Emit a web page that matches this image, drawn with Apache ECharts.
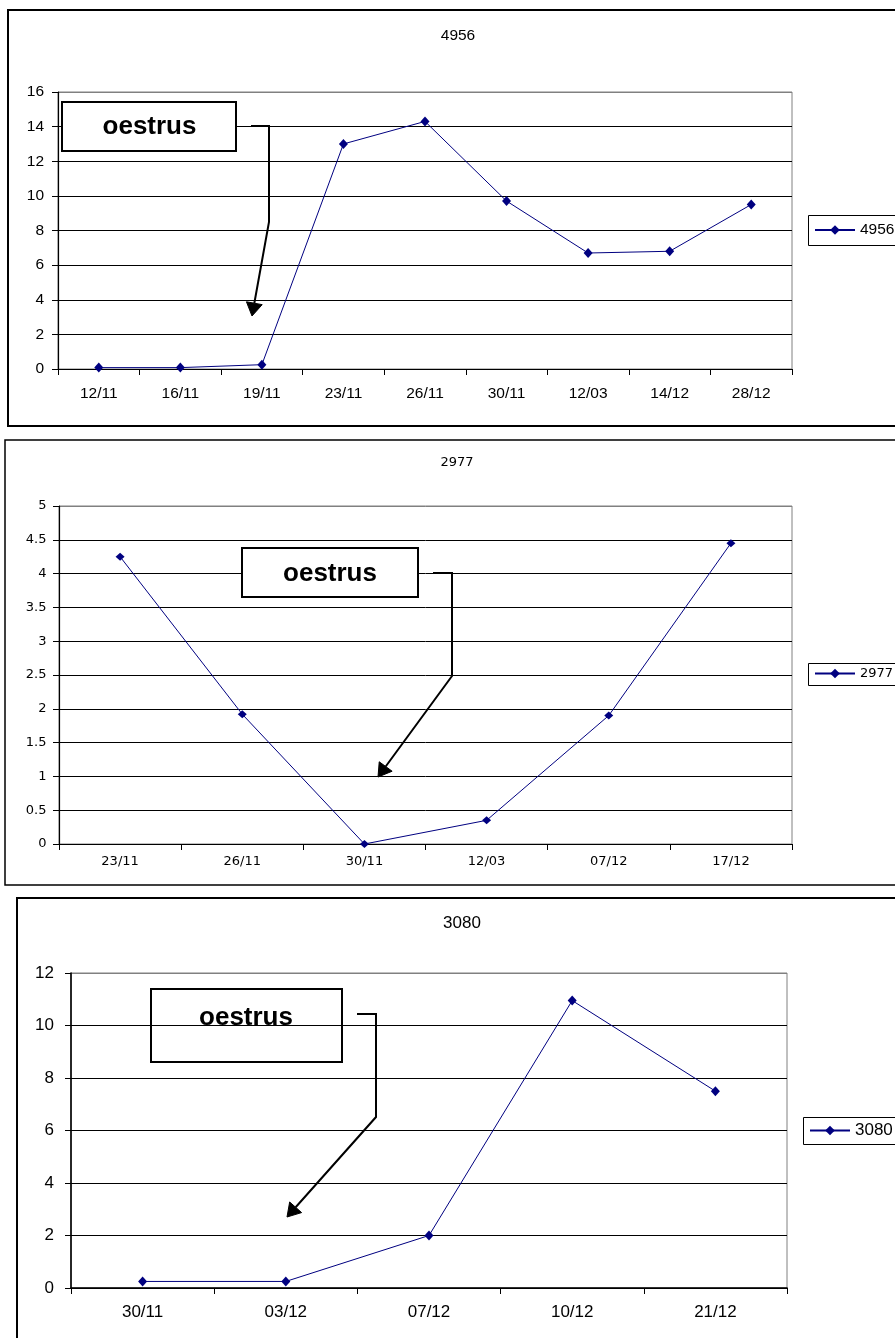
<!DOCTYPE html>
<html>
<head>
<meta charset="utf-8">
<script src="https://cdn.jsdelivr.net/npm/echarts@6/dist/echarts.min.js"></script>
<style>
  html, body { margin: 0; padding: 0; background: #ffffff; }
  #chart { width: 895px; height: 1338px; }
</style>
</head>
<body>
<div id="chart"></div>
<script>
// Cow 4956
const cats4956 = ['12/11', '16/11', '19/11', '23/11', '26/11', '30/11', '12/03', '14/12', '28/12'];
const vals4956 = [0.08, 0.08, 0.25, 13, 14.3, 9.7, 6.7, 6.8, 9.5];
const yAxis4956 = { min: 0, max: 16, interval: 2 };

// Cow 2977
const cats2977 = ['23/11', '26/11', '30/11', '12/03', '07/12', '17/12'];
const vals2977 = [4.25, 1.92, 0, 0.35, 1.9, 4.45];
const yAxis2977 = { min: 0, max: 5, interval: 0.5 };

// Cow 3080
const cats3080 = ['30/11', '03/12', '07/12', '10/12', '21/12'];
const vals3080 = [0.25, 0.25, 2, 10.95, 7.5];
const yAxis3080 = { min: 0, max: 12, interval: 2 };

const annotationText = 'oestrus';

const LINE = '#000080';
const ARIAL = 'Liberation Sans, Arial, sans-serif';
const VERDANA = 'DejaVu Sans, Verdana, sans-serif';

// Layout of the three stacked panels
const panels = [
  {
    name: '4956', cats: cats4956, vals: vals4956, y: yAxis4956,
    grid: { left: 58, top: 92, width: 734, height: 277 },
    font: ARIAL, fontSize: 15.5, yMargin: 14, xMargin: 17,
    titleX: 458, titleTop: 28,
    legend: { left: 808, top: 215, h: 30, padding: [7, 5, 7, 6] },
    symbolSize: [9, 10], axisWidth: 1.2,
    frame: { x: 8, y: 10, h: 416, lw: 2 },
    box: { x: 62, y: 102, w: 174, h: 49, fill: '#ffffff' },
    textPos: [149.5, 127],
    arrow: [[251, 126], [269, 126], [269, 222], [252, 316]]
  },
  {
    name: '2977', cats: cats2977, vals: vals2977, y: yAxis2977,
    grid: { left: 59, top: 506, width: 733, height: 338 },
    font: VERDANA, fontSize: 13, yMargin: 12.5, xMargin: 11,
    titleX: 457, titleTop: 456,
    legend: { left: 808, top: 663, h: 22, padding: [4, 5, 4, 6] },
    symbolSize: [9, 8], axisWidth: 1.2,
    frame: { x: 5, y: 440, h: 445, lw: 1.5 },
    box: { x: 242, y: 548, w: 176, h: 49, fill: '#ffffff' },
    textPos: [330, 573.5],
    arrow: [[433, 573], [452, 573], [452, 676], [378, 777]]
  },
  {
    name: '3080', cats: cats3080, vals: vals3080, y: yAxis3080,
    grid: { left: 71, top: 973, width: 716, height: 315 },
    font: ARIAL, fontSize: 17, yMargin: 17, xMargin: 16,
    titleX: 462, titleTop: 915,
    legend: { left: 803, top: 1117, h: 27, padding: [5, 5, 5, 6] },
    symbolSize: [9, 10], axisWidth: 1.6,
    frame: { x: 17, y: 898, h: 600, lw: 2 },
    box: { x: 151, y: 989, w: 191, h: 73, fill: 'transparent' },
    textPos: [246, 1017.5],
    arrow: [[357, 1014], [376, 1014], [376, 1117], [287, 1217]]
  }
];

// Filled triangle at the end of a leader, pointing along its last segment
function arrowHead(from, tip, len, halfW) {
  const dx = tip[0] - from[0], dy = tip[1] - from[1];
  const d = Math.hypot(dx, dy);
  const ux = dx / d, uy = dy / d;
  const bx = tip[0] - ux * len, by = tip[1] - uy * len;
  return [[tip[0], tip[1]], [bx - uy * halfW, by + ux * halfW], [bx + uy * halfW, by - ux * halfW]];
}

// Black gridlines, with the top one left in the plot-frame grey
function splitColors(y) {
  const n = Math.round((y.max - y.min) / y.interval) + 1;
  const arr = [];
  for (let i = 0; i < n; i++) arr.push(i === n - 1 ? '#808080' : '#000000');
  return arr;
}

const grids = [], xAxes = [], yAxes = [], series = [], titles = [], legends = [], graphics = [];

panels.forEach((p, i) => {
  grids.push(Object.assign({
    show: true, borderColor: '#808080', borderWidth: 1, backgroundColor: '#ffffff',
    containLabel: false, outerBoundsMode: 'none'
  }, p.grid));

  xAxes.push({
    type: 'category', gridIndex: i, data: p.cats, boundaryGap: true,
    axisLine: { show: true, lineStyle: { color: '#000000', width: p.axisWidth } },
    axisTick: { show: true, length: 6, interval: 0, lineStyle: { color: '#000000', width: 1 } },
    axisLabel: { interval: 0, margin: p.xMargin, color: '#000000', fontFamily: p.font, fontSize: p.fontSize },
    splitLine: { show: false }
  });

  yAxes.push({
    type: 'value', gridIndex: i, min: p.y.min, max: p.y.max, interval: p.y.interval,
    axisLine: { show: true, lineStyle: { color: '#000000', width: p.axisWidth } },
    axisTick: { show: true, length: 6, lineStyle: { color: '#000000', width: 1 } },
    axisLabel: { margin: p.yMargin, color: '#000000', fontFamily: p.font, fontSize: p.fontSize },
    splitLine: { show: true, lineStyle: { color: splitColors(p.y), width: 1 } }
  });

  series.push({
    name: p.name, type: 'line', xAxisIndex: i, yAxisIndex: i, data: p.vals,
    symbol: 'diamond', symbolSize: p.symbolSize,
    lineStyle: { color: LINE, width: 1 },
    itemStyle: { color: LINE },
    animation: false
  });

  titles.push({
    text: p.name, left: p.titleX, top: p.titleTop, textAlign: 'center', padding: 0,
    textStyle: { fontFamily: p.font, fontSize: p.fontSize, fontWeight: 'normal', color: '#000000' }
  });

  legends.push({
    data: [p.name], orient: 'vertical', left: p.legend.left, top: p.legend.top,
    padding: p.legend.padding, itemWidth: 40, itemHeight: 12, itemGap: 0,
    borderWidth: 0, backgroundColor: 'transparent',
    textStyle: { fontFamily: p.font, fontSize: p.fontSize, color: '#000000' },
    selectedMode: false
  });

  // legend frame, running on past the right edge of the page
  graphics.push({
    type: 'rect', z: 1, silent: true,
    shape: { x: p.legend.left + 0.5, y: p.legend.top + 0.5, width: 200, height: p.legend.h },
    style: { fill: '#ffffff', stroke: '#000000', lineWidth: 1 }
  });
  // panel frame
  graphics.push({
    type: 'rect', z: 1, silent: true,
    shape: { x: p.frame.x, y: p.frame.y, width: 1200, height: p.frame.h },
    style: { fill: 'transparent', stroke: '#000000', lineWidth: p.frame.lw }
  });
  // annotation box with its label
  graphics.push({
    type: 'rect', z: 20, silent: true,
    shape: { x: p.box.x, y: p.box.y, width: p.box.w, height: p.box.h },
    style: { fill: p.box.fill, stroke: '#000000', lineWidth: 2 }
  });
  graphics.push({
    type: 'text', z: 21, silent: true, x: p.textPos[0], y: p.textPos[1],
    style: {
      text: annotationText, fill: '#000000', font: 'bold 26px ' + ARIAL,
      textAlign: 'center', textVerticalAlign: 'middle'
    }
  });
  // leader arrow
  const pts = p.arrow;
  const head = arrowHead(pts[pts.length - 2], pts[pts.length - 1], 13, 8);
  const shaft = pts.slice(0, -1).concat([[
    (head[1][0] + head[2][0]) / 2, (head[1][1] + head[2][1]) / 2
  ]]);
  graphics.push({
    type: 'polyline', z: 21, silent: true,
    shape: { points: shaft },
    style: { stroke: '#000000', lineWidth: 2, fill: null, lineJoin: 'miter' }
  });
  graphics.push({
    type: 'polygon', z: 21, silent: true,
    shape: { points: head },
    style: { fill: '#000000', stroke: '#000000', lineWidth: 1 }
  });
});

const chart = echarts.init(document.getElementById('chart'), null, { renderer: 'canvas' });
chart.setOption({
  backgroundColor: '#ffffff',
  animation: false,
  title: titles,
  legend: legends,
  grid: grids,
  xAxis: xAxes,
  yAxis: yAxes,
  series: series,
  graphic: { elements: graphics }
});
</script>
</body>
</html>
